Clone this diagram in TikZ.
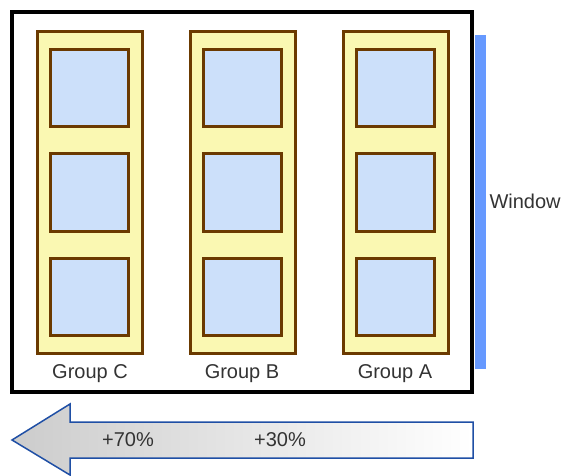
\documentclass[tikz,border=0pt]{standalone}
\usepackage{fontspec}
\setmainfont{Liberation Sans}
\begin{document}
\begin{tikzpicture}[x=1pt,y=-1pt,
  colbox/.style={draw=brownc,fill=yellowc,line width=3pt},
  pane/.style={draw=brownc,fill=bluec,line width=3pt},
  lbl/.style={font=\fontsize{20}{24}\selectfont,text=textc}]
\definecolor{brownc}{HTML}{6B3A00}
\definecolor{yellowc}{HTML}{FAF8B2}
\definecolor{bluec}{HTML}{CCE0FA}
\definecolor{barc}{HTML}{6699FF}
\definecolor{textc}{HTML}{333333}
\definecolor{arrowc}{HTML}{1F4FA5}
\useasboundingbox (0,0) rectangle (565,476);
\fill[barc] (475,35) rectangle (486,369);
\draw[line width=4pt,fill=white] (12,12) rectangle (472,392);
\foreach \x/\g in {37/C,190/B,343/A}{
  \draw[colbox] (\x,32) rectangle ++(105,321);
  \foreach \y in {50,154,258}{
    \draw[pane] (\x+13,\y) rectangle ++(78,77);
  }
}
\node[lbl] (gc) at (90,374) {Group C};
\node[lbl] (gb) at (242,374) {Group B};
\node[lbl] (ga) at (395,374) {Group A};
\node[lbl,anchor=west] (win) at (486,201) {Window};
\draw[draw=arrowc,line width=1.5pt,left color=gray!40,right color=white]
  (473,422) -- (70,422) -- (70,404) -- (12,440) -- (70,475) -- (70,458) -- (473,458) -- cycle;
\node[lbl] (p70) at (128,440) {+70\%};
\node[lbl] (p30) at (280,440) {+30\%};
\end{tikzpicture}
\end{document}
